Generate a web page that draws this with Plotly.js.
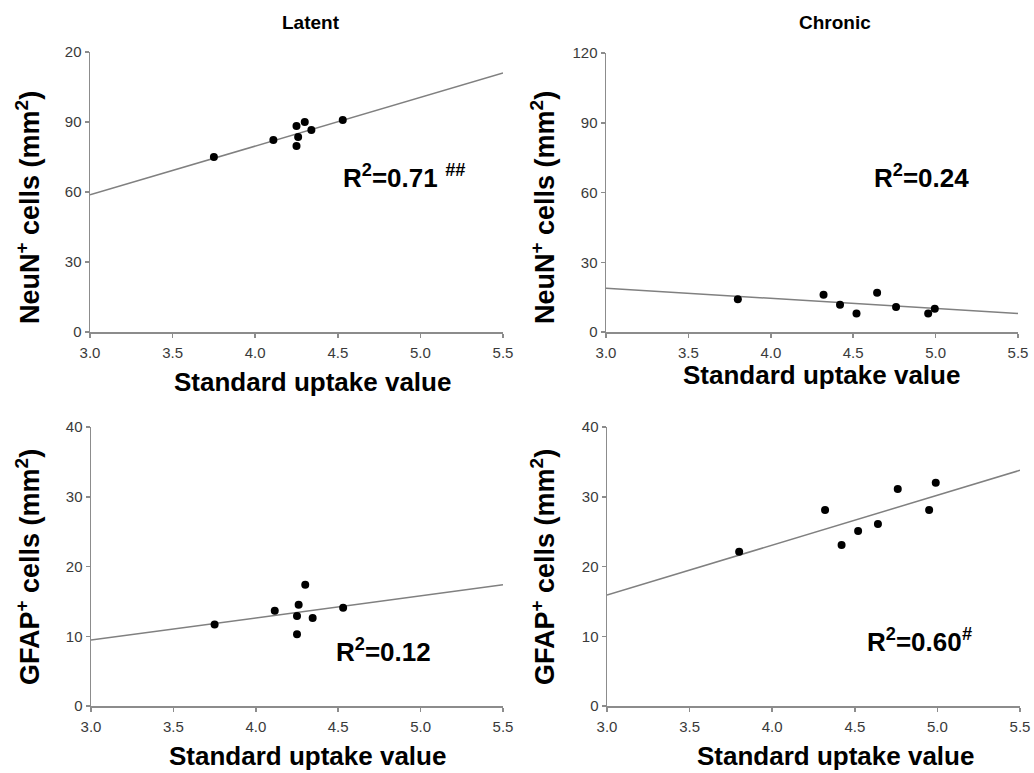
<!DOCTYPE html>
<html>
<head>
<meta charset="utf-8">
<script src="https://cdn.plot.ly/plotly-3.0.1.min.js"></script>
<style>html,body{margin:0;padding:0;background:#fff;}#chart{width:1034px;height:773px;}</style>
</head>
<body>
<div id="chart"></div>
<script>
// Standard uptake values (x) for each group
const latentSUV = [3.75, 4.11, 4.25, 4.30, 4.26, 4.25, 4.34, 4.53];
const chronicSUV = [3.80, 4.32, 4.42, 4.52, 4.645, 4.76, 4.955, 4.995];

// NeuN+ cells
const latentNeuN = [75, 82.3, 88.3, 90, 83.6, 79.7, 86.6, 90.9];
const chronicNeuN = [14.1, 16.0, 11.7, 8.0, 16.9, 10.8, 8.0, 10.0];

// GFAP+ cells
const latentSUV_G = [3.75, 4.115, 4.30, 4.26, 4.25, 4.345, 4.25, 4.53];
const latentGFAP = [11.7, 13.65, 17.4, 14.5, 12.9, 12.6, 10.3, 14.1];
const chronicSUV_G = [3.80, 4.32, 4.42, 4.52, 4.64, 4.76, 4.95, 4.99];
const chronicGFAP = [22.1, 28.1, 23.1, 25.1, 26.1, 31.1, 28.1, 32.0];

// Regression line end points
const fitX = [3.0, 5.5];
const fitLatentNeuN = [58.8, 111];
const fitChronicNeuN = [18.8, 8.0];
const fitLatentGFAP = [9.45, 17.4];
const fitChronicGFAP = [15.9, 33.8];

// Tick labels
const xTickVals = [3.0, 3.5, 4.0, 4.5, 5.0, 5.5];
const xTickText = ['3.0', '3.5', '4.0', '4.5', '5.0', '5.5'];
const neunTickVals = [0, 30, 60, 90, 120];
const neunTickTextLatent = ['0', '30', '60', '90', '20'];
const neunTickTextChronic = ['0', '30', '60', '90', '120'];
const gfapTickVals = [0, 10, 20, 30, 40];
const gfapTickText = ['0', '10', '20', '30', '40'];

// Texts
const panelTitles = ['Latent', 'Chronic'];
const xTitle = 'Standard uptake value';
const neunTitle = 'NeuN<sup>+</sup> cells (mm<sup>2</sup>)';
const gfapTitle = 'GFAP<sup>+</sup> cells (mm<sup>2</sup>)';
const r2Labels = ['R<sup>2</sup>=0.71 <sup><i>##</i></sup>', 'R<sup>2</sup>=0.24', 'R<sup>2</sup>=0.12', 'R<sup>2</sup>=0.60<sup><i>#</i></sup>'];

const FONT = 'Arial, "Liberation Sans", sans-serif';
const marker = {color: '#000', size: 8};
const fitLine = {color: '#808080', width: 1.5};

function pts(x, y, xa, ya) {
  return {x: x, y: y, xaxis: xa, yaxis: ya, type: 'scatter', mode: 'markers', marker: marker, hoverinfo: 'x+y'};
}
function fit(y, xa, ya) {
  return {x: fitX, y: y, xaxis: xa, yaxis: ya, type: 'scatter', mode: 'lines', line: fitLine, hoverinfo: 'skip'};
}

const data = [
  fit(fitLatentNeuN, 'x', 'y'), pts(latentSUV, latentNeuN, 'x', 'y'),
  fit(fitChronicNeuN, 'x2', 'y2'), pts(chronicSUV, chronicNeuN, 'x2', 'y2'),
  fit(fitLatentGFAP, 'x3', 'y3'), pts(latentSUV_G, latentGFAP, 'x3', 'y3'),
  fit(fitChronicGFAP, 'x4', 'y4'), pts(chronicSUV_G, chronicGFAP, 'x4', 'y4')
];

const W = 1034, H = 773;
function xdom(l, r) { return [l / W, r / W]; }
function ydom(top, bottom) { return [1 - bottom / H, 1 - top / H]; }

const common = {
  showgrid: false, zeroline: false, showline: true, linecolor: '#8c8c8c', linewidth: 1.5,
  ticks: 'outside', ticklen: 4, tickcolor: '#8c8c8c', tickwidth: 1.5,
  tickfont: {family: FONT, size: 15, color: '#3a3a3a'}
};
function xaxis(dom, anchor) {
  return Object.assign({domain: dom, anchor: anchor, range: [3.0, 5.5], tickvals: xTickVals, ticktext: xTickText, ticklabelstandoff: 2}, common);
}
function yaxis(dom, anchor, range, tv, tt) {
  return Object.assign({domain: dom, anchor: anchor, range: range, tickvals: tv, ticktext: tt}, common);
}

function ann(text, x, y, size, angle) {
  return {text: text, x: x / W, y: 1 - y / H, xref: 'paper', yref: 'paper', showarrow: false,
    textangle: angle || 0,
    xanchor: 'center', yanchor: 'middle', font: {family: FONT, size: size, color: '#000', weight: 'bold'}};
}

const layout = {
  width: W, height: H,
  margin: {l: 0, r: 0, t: 0, b: 0},
  paper_bgcolor: '#fff', plot_bgcolor: '#fff',
  showlegend: false,
  font: {family: FONT},
  xaxis: xaxis(xdom(90, 503), 'y'),
  yaxis: yaxis(ydom(52, 332), 'x', [0, 120], neunTickVals, neunTickTextLatent),
  xaxis2: xaxis(xdom(606, 1018), 'y2'),
  yaxis2: yaxis(ydom(53, 332), 'x2', [0, 120], neunTickVals, neunTickTextChronic),
  xaxis3: xaxis(xdom(91, 503), 'y3'),
  yaxis3: yaxis(ydom(427, 706), 'x3', [0, 40], gfapTickVals, gfapTickText),
  xaxis4: xaxis(xdom(607, 1020), 'y4'),
  yaxis4: yaxis(ydom(427, 706), 'x4', [0, 40], gfapTickVals, gfapTickText),
  annotations: [
    ann(panelTitles[0], 311, 22, 19),
    ann(panelTitles[1], 835, 22, 19),
    ann(xTitle, 312, 382, 26),
    ann(xTitle, 821, 375, 26),
    ann(xTitle, 307, 756, 26),
    ann(xTitle, 835, 756, 26),
    ann(neunTitle, 28, 208, 27, -90),
    ann(neunTitle, 543, 208, 27, -90),
    ann(gfapTitle, 28, 567, 27, -90),
    ann(gfapTitle, 543, 567, 27, -90),
    ann(r2Labels[0], 404, 176, 26),
    ann(r2Labels[1], 921, 177, 26),
    ann(r2Labels[2], 383, 650, 26),
    ann(r2Labels[3], 920, 640, 26)
  ]
};

Plotly.newPlot('chart', data, layout, {displayModeBar: false, staticPlot: true});
</script>
</body>
</html>
